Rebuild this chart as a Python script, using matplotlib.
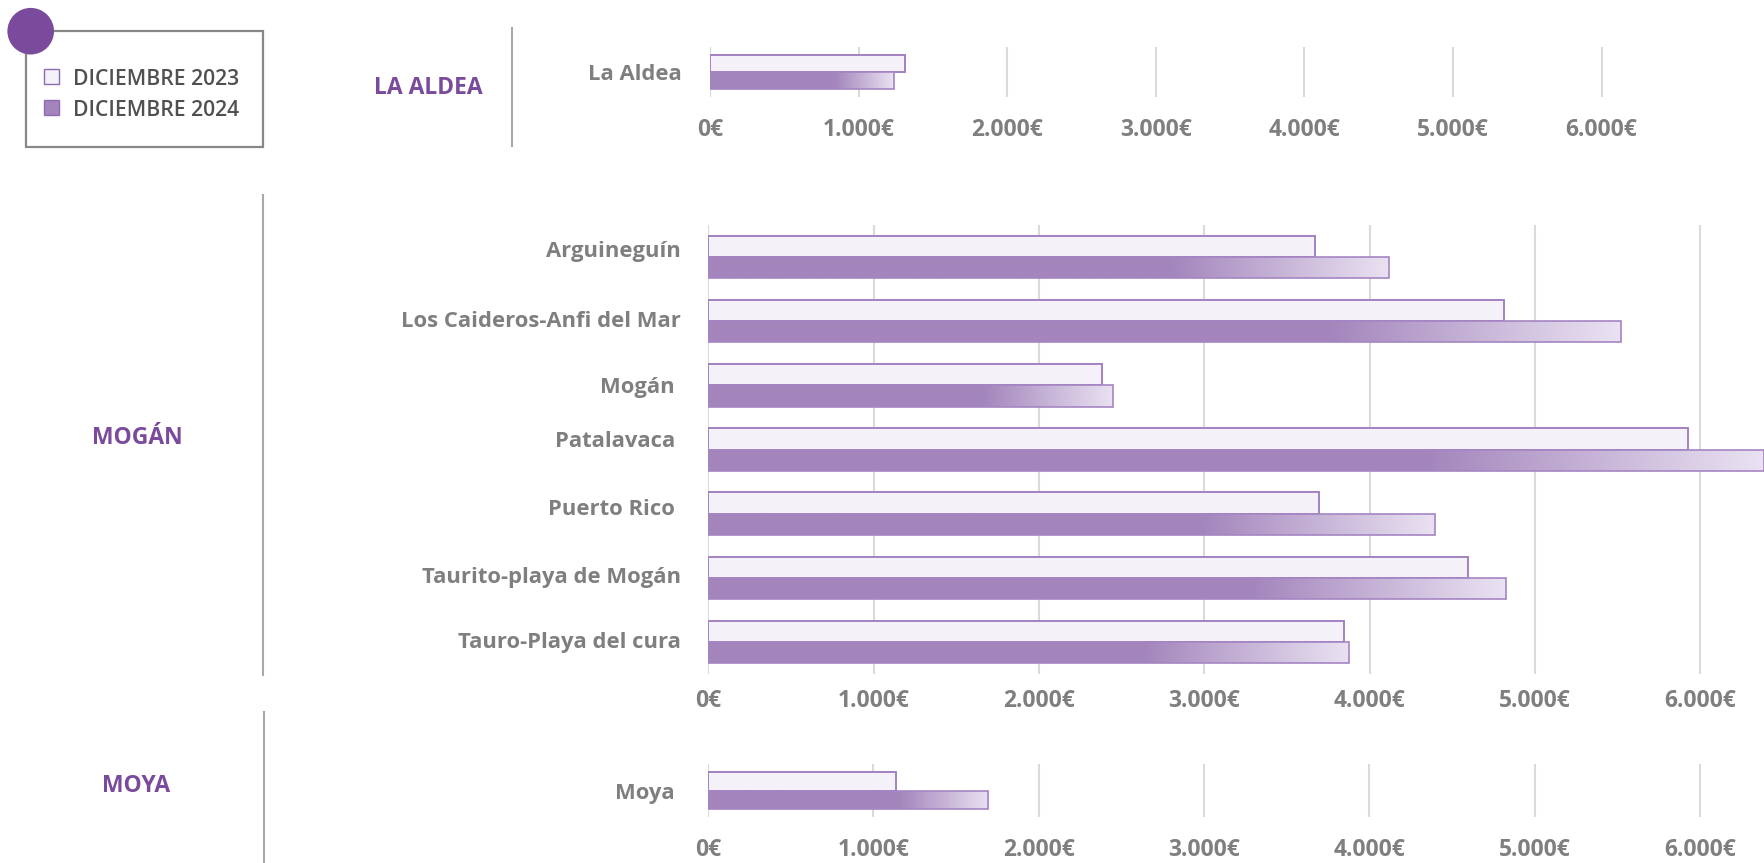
import numpy as np
import matplotlib
matplotlib.use("Agg")
import matplotlib.pyplot as plt
import matplotlib.transforms as mtransforms
from matplotlib.colors import LinearSegmentedColormap
from matplotlib.patches import Rectangle, Ellipse
from matplotlib.lines import Line2D

# ---------------- data ----------------
series_names = ["DICIEMBRE 2023", "DICIEMBRE 2024"]

aldea_labels = ["La Aldea"]
aldea_2023 = [1310]
aldea_2024 = [1236]

mogan_labels = ["Arguineguín", "Los Caideros-Anfi del Mar", "Mogán ", "Patalavaca ",
                "Puerto Rico ", "Taurito-playa de Mogán", "Tauro-Playa del cura"]
mogan_2023 = [3672, 4812, 2383, 5925, 3691, 4596, 3843]
mogan_2024 = [4119, 5523, 2446, 6385, 4395, 4823, 3877]

moya_labels = ["Moya "]
moya_2023 = [1137]
moya_2024 = [1696]

sections = ["LA ALDEA", "MOGÁN", "MOYA"]
tick_values = [0, 1000, 2000, 3000, 4000, 5000, 6000]
tick_labels = ["0€", "1.000€", "2.000€", "3.000€", "4.000€", "5.000€", "6.000€"]

# ---------------- style ----------------
W, H = 1765, 863
DPI = 100
FONT = ["Open Sans", "DejaVu Sans"]
plt.rcParams["font.family"] = FONT

C23_FACE = "#F4F1F8"
C23_EDGE = "#A281C2"
C24_FACE = "#A385BC"
C24_LIGHT = "#E9E1F1"
C24_EDGE = "#A585C2"
GRID = "#DADADA"
TXT_GRAY = "#7F7F7F"
PURPLE = "#7A4A9C"
SEP = "#A8A8A8"

grad_cmap = LinearSegmentedColormap.from_list(
    "g", [(0.0, C24_FACE), (0.68, C24_FACE), (1.0, C24_LIGHT)])

fig = plt.figure(figsize=(W / DPI, H / DPI), dpi=DPI)
renderer = fig.canvas.get_renderer()


def text_width(s, size, weight):
    t = fig.text(0, 0, s, fontsize=size, fontweight=weight, family=FONT)
    w = t.get_window_extent(renderer).width
    t.remove()
    return w


def fit_size(s, target_px, weight):
    return 10 * target_px / text_width(s, 10, weight)


def px_rect(x0, x1, ytop, ybot):
    return [x0 / W, 1 - ybot / H, (x1 - x0) / W, (ybot - ytop) / H]


cat_size = fit_size("Los Caideros-Anfi del Mar", 280, "bold")
tick_size = fit_size("1.000€", 72, "bold")
sec_size = fit_size("LA ALDEA", 109, "bold")
leg_size = fit_size("DICIEMBRE 2023", 166, "semibold")


def panel(rect, labels, v23, v24, px_per_k, bar_h, tick_pad_pt, label_shift_px=None):
    ax = fig.add_axes(px_rect(*rect))
    xmax = (rect[1] - rect[0]) / px_per_k * 1000
    n = len(labels)
    y = np.arange(n)
    ax.barh(y - bar_h / 2, v23, height=bar_h, color=C23_FACE,
            edgecolor=C23_EDGE, linewidth=1.4, zorder=3)
    b24 = ax.barh(y + bar_h / 2, v24, height=bar_h, color="none",
                  edgecolor=C24_EDGE, linewidth=1.2, zorder=4)
    grad = np.linspace(0, 1, 256).reshape(1, -1)
    for rect_patch, val, yy in zip(b24.patches, v24, y):
        im = ax.imshow(grad, cmap=grad_cmap, aspect="auto",
                       extent=(0, val, yy, yy + bar_h), zorder=3,
                       interpolation="bilinear")
        im.set_clip_path(rect_patch)
    ax.set_xlim(0, xmax)
    ax.set_ylim(n - 0.5, -0.5)
    ax.set_xticks(tick_values)
    ax.set_xticklabels(tick_labels)
    ax.set_yticks(y)
    ax.set_yticklabels(labels)
    ax.grid(axis="x", color=GRID, linewidth=1.5)
    ax.set_axisbelow(True)
    for s in ax.spines.values():
        s.set_visible(False)
    ax.tick_params(axis="both", length=0)
    ax.tick_params(axis="x", pad=tick_pad_pt, labelsize=tick_size, labelcolor=TXT_GRAY)
    ax.tick_params(axis="y", pad=20, labelsize=cat_size, labelcolor=TXT_GRAY)
    for lab in ax.get_xticklabels() + ax.get_yticklabels():
        lab.set_fontweight("bold")
    if label_shift_px is not None:
        for lab, dy in zip(ax.get_yticklabels(), label_shift_px):
            off = mtransforms.ScaledTranslation(0, dy / DPI, fig.dpi_scale_trans)
            lab.set_transform(lab.get_transform() + off)
    ax.patch.set_alpha(0)
    return ax


panel((710, 1661, 47, 97), aldea_labels, aldea_2023, aldea_2024, 148.6, 0.34, 15)
panel((708.5, 1765, 225, 674), mogan_labels, mogan_2023, mogan_2024, 165.3, 0.33, 10.5,
      label_shift_px=[8, 2, 0, 11, 7, 3, 2])
panel((708, 1765, 764, 817), moya_labels, moya_2023, moya_2024, 165.3, 0.35, 15)

# section labels
for name, (cx, cy) in zip(sections, [(428, 87.5), (137, 437.5), (136, 785.5)]):
    fig.text(cx / W, 1 - cy / H, name, ha="center", va="center",
             fontsize=sec_size, fontweight="bold", color=PURPLE)

# separators
for (x, y0, y1) in [(512, 28, 146), (263, 195, 675), (264.5, 712, 863)]:
    fig.add_artist(Line2D([x / W, x / W], [1 - y0 / H, 1 - y1 / H],
                          color=SEP, linewidth=1.5, transform=fig.transFigure))

# legend box
fig.add_artist(Rectangle((26 / W, 1 - 147 / H), (263 - 26) / W, (147 - 31) / H,
                         facecolor="white", edgecolor="#888888", linewidth=1.6,
                         transform=fig.transFigure, zorder=5))
fig.add_artist(Ellipse((30.7 / W, 1 - 31.2 / H), 2 * 23.3 / W, 2 * 23.3 / H,
                       facecolor=PURPLE, edgecolor="none",
                       transform=fig.transFigure, zorder=6))
for name, face, ytop, ycen in zip(series_names, [C23_FACE, C24_FACE], [69, 100], [79.5, 110.5]):
    fig.add_artist(Rectangle((44 / W, 1 - (ytop + 15) / H), 15 / W, 15 / H,
                             facecolor=face, edgecolor="#8E6AB5", linewidth=1.0,
                             transform=fig.transFigure, zorder=6))
    fig.text(73 / W, 1 - ycen / H, name, ha="left", va="center",
             fontsize=leg_size, fontweight="semibold", color="#505050", zorder=7)

fig.savefig("out.png", dpi=DPI)
